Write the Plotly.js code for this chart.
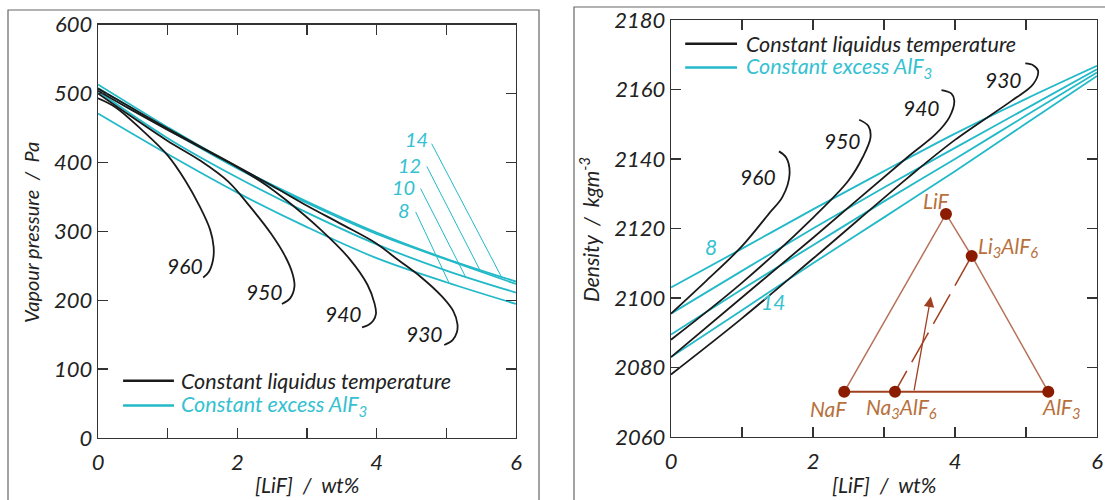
<!DOCTYPE html>
<html><head><meta charset="utf-8">
<script src="https://cdn.plot.ly/plotly-3.0.1.min.js"></script>
<style>html,body{margin:0;padding:0;background:#fff}#chart{width:1105px;height:500px}</style>
</head><body><div id="chart"></div>
<script>
// ---------- Left panel: vapour pressure (Pa) vs [LiF] (wt%) ----------
const lifGrid = [0, 1, 2, 3, 4, 5, 6];
const vpAlF3_8  = [471, 412, 356, 306, 261, 226, 194.5];
const vpAlF3_10 = [503, 435, 378, 327, 281, 243, 211];
const vpAlF3_12 = [508, 448, 391, 341, 296, 259, 223.5];
const vpAlF3_14 = [513, 451, 393, 343, 298, 260, 227];

const vp960_x = [0, 0.25, 0.64, 1.0, 1.25, 1.46, 1.61, 1.66, 1.65, 1.59, 1.51];
const vp960_y = [493, 480, 446, 410, 374, 336, 302, 277, 258, 241, 233];
const vp950_x = [0, 0.5, 1.0, 1.46, 1.87, 2.18, 2.48, 2.69, 2.79, 2.82, 2.76, 2.64];
const vp950_y = [500, 465, 431, 403, 372, 336, 297, 263, 239, 220, 203, 194.5];
const vp940_x = [0, 0.5, 1, 1.5, 2, 2.4, 2.69, 3.2, 3.61, 3.87, 3.97, 3.99, 3.95, 3.88, 3.79];
const vp940_y = [504, 475, 447, 420, 393, 368, 346, 302, 260, 222, 195, 180, 170, 164, 160.5];
const vp930_x = [0, 0.5, 1, 1.5, 2, 2.5, 3, 3.5, 4, 4.3, 4.63, 4.94, 5.1, 5.16, 5.15, 5.09, 4.97];
const vp930_y = [507, 478, 449, 421, 394, 366, 337, 310, 282, 259, 234, 205, 184, 165, 153, 142, 135];

// ---------- Right panel: density (kg m-3) vs [LiF] (wt%) ----------
const denAlF3_8  = [2103, 2114.2, 2125.5, 2136.5, 2147.3, 2157.3, 2166.8];
const denAlF3_10 = [2095.5, 2107.8, 2120, 2131.8, 2143.2, 2154.5, 2165.8];
const denAlF3_12 = [2089.5, 2102.5, 2115.2, 2127.8, 2140, 2152.5, 2164.9];
const denAlF3_14 = [2083, 2096.5, 2110, 2123.2, 2136.5, 2150.2, 2163.9];

const den960_x = [0, 0.5, 0.99, 1.38, 1.57, 1.67, 1.62, 1.52];
const den960_y = [2095.5, 2105, 2114.7, 2124.3, 2129.1, 2135.7, 2140.5, 2142.2];
const den950_x = [0, 0.99, 2.01, 2.5, 2.7, 2.81, 2.78, 2.65];
const den950_y = [2088, 2104.2, 2123.3, 2133.8, 2140.5, 2146.2, 2149.5, 2151.3];
const den940_x = [0, 0.99, 2.01, 3.33, 3.73, 3.92, 3.99, 3.95, 3.81];
const den940_y = [2083, 2100, 2117.5, 2140.5, 2147.2, 2152, 2156.8, 2158.8, 2159.8];
const den930_x = [0, 0.99, 2.01, 3.33, 4.0, 4.8, 5.1, 5.17, 5.1, 4.99];
const den930_y = [2078, 2094, 2111.5, 2134.5, 2145.5, 2156.8, 2161.5, 2165.4, 2167, 2167.5];

// labels
const liqLabels = ['960', '950', '940', '930'];
const alf3Labels = ['8', '10', '12', '14'];
const xTickVals = [0, 2, 4, 6];
const vpTicks = [0, 100, 200, 300, 400, 500, 600];
const denTicks = [2060, 2080, 2100, 2120, 2140, 2160, 2180];

// inset ternary sketch (in density-panel units)
const insetNames = ['LiF', 'NaF', 'Na<sub>3</sub>AlF<sub>6</sub>', 'AlF<sub>3</sub>', 'Li<sub>3</sub>AlF<sub>6</sub>'];
const insetX = [3.873, 2.44, 3.155, 5.314, 4.235];
const insetY = [2124.2, 2073, 2073, 2073, 2112.1];

// ---------- styling ----------
const FONT = 'Lato, "Open Sans", sans-serif';
const CYAN = '#22b9c9';
const CYAN_TXT = '#35c1d1';
const BLACK = '#1a1a1a';
const BROWN_L = '#b8725a';
const BROWN_D = '#a04020';
const BROWN_DOT = '#8c1c00';
const BROWN_TXT = '#b8703c';

function ln(x, y, color, xa, ya, w) {
  return {x: x, y: y, type: 'scatter', mode: 'lines', xaxis: xa, yaxis: ya,
    line: {color: color, width: w || 1.8, shape: 'spline', smoothing: 1},
    hoverinfo: 'skip', showlegend: false};
}

const traces = [
  ln(lifGrid, vpAlF3_8, CYAN, 'x', 'y'),
  ln(lifGrid, vpAlF3_10, CYAN, 'x', 'y'),
  ln(lifGrid, vpAlF3_12, CYAN, 'x', 'y'),
  ln(lifGrid, vpAlF3_14, CYAN, 'x', 'y'),
  ln(vp960_x, vp960_y, BLACK, 'x', 'y'),
  ln(vp950_x, vp950_y, BLACK, 'x', 'y'),
  ln(vp940_x, vp940_y, BLACK, 'x', 'y'),
  ln(vp930_x, vp930_y, BLACK, 'x', 'y'),
  ln(lifGrid, denAlF3_8, CYAN, 'x2', 'y2'),
  ln(lifGrid, denAlF3_10, CYAN, 'x2', 'y2'),
  ln(lifGrid, denAlF3_12, CYAN, 'x2', 'y2'),
  ln(lifGrid, denAlF3_14, CYAN, 'x2', 'y2'),
  ln(den960_x, den960_y, BLACK, 'x2', 'y2'),
  ln(den950_x, den950_y, BLACK, 'x2', 'y2'),
  ln(den940_x, den940_y, BLACK, 'x2', 'y2'),
  ln(den930_x, den930_y, BLACK, 'x2', 'y2'),
  // inset: triangle sides
  {x: [insetX[1], insetX[0], insetX[4], insetX[3]], y: [insetY[1], insetY[0], insetY[4], insetY[3]],
   type: 'scatter', mode: 'lines', xaxis: 'x2', yaxis: 'y2', line: {color: BROWN_L, width: 1.5},
   hoverinfo: 'skip', showlegend: false},
  {x: [insetX[1], insetX[3]], y: [insetY[1], insetY[3]], type: 'scatter', mode: 'lines',
   xaxis: 'x2', yaxis: 'y2', line: {color: BROWN_D, width: 2}, hoverinfo: 'skip', showlegend: false},
  // cryolite - Li3AlF6 join (dashed)
  {x: [insetX[4], insetX[2]], y: [insetY[4], insetY[2]], type: 'scatter', mode: 'lines',
   xaxis: 'x2', yaxis: 'y2', line: {color: BROWN_D, width: 1.5, dash: '34px,10px'},
   hoverinfo: 'skip', showlegend: false},
  // points
  {x: insetX, y: insetY, type: 'scatter', mode: 'markers', xaxis: 'x2', yaxis: 'y2',
   marker: {color: BROWN_DOT, size: 12}, hoverinfo: 'skip', showlegend: false}
];

function axisBase(extra) {
  return Object.assign({
    showline: true, linecolor: '#333', linewidth: 1.3, mirror: 'ticks',
    ticks: 'inside', ticklen: 10, tickwidth: 1.3, tickcolor: '#333',
    showgrid: false, zeroline: false, fixedrange: true,
    tickfont: {family: FONT, size: 22, color: '#222', style: 'italic'}
  }, extra);
}
const minorX = {dtick: 1, tick0: 0, ticks: 'inside', ticklen: 10, tickwidth: 1.3, tickcolor: '#333', showgrid: false};

const txtFont = (size, color) => ({family: FONT, size: size, color: color, style: 'italic'});
const annotations = [];
const shapes = [];
const SP = '\u00a0';

// axis titles
function axTitle(text, px, py, angle, size) {
  annotations.push({text: text, xref: 'paper', yref: 'paper', x: px/1105, y: 1 - py/500,
    xanchor: 'center', yanchor: 'middle', textangle: angle, showarrow: false, font: txtFont(size, '#222')});
}
axTitle('Vapour pressure ' + SP + '/' + SP + ' Pa', 31, 233, -90, 20);
axTitle('[LiF] ' + SP + '/' + SP + ' wt%', 307, 484, 0, 21);
axTitle('Density ' + SP + '/' + SP + ' kgm<sup>-3</sup>', 589, 230, -90, 21);
axTitle('[LiF] ' + SP + '/' + SP + ' wt%', 884, 484, 0, 21);

// curve labels, left
const vpLiqPos = [[1.25, 251], [2.39, 212], [3.53, 180], [4.68, 152]];
liqLabels.forEach((t, i) => annotations.push({text: t, xref: 'x', yref: 'y', x: vpLiqPos[i][0], y: vpLiqPos[i][1],
  showarrow: false, font: txtFont(21, BLACK)}));
const vpAlPos = [[4.39, 331], [4.39, 364], [4.47, 396], [4.57, 433.5]];
const vpLeader = [[4.56, 328, 5.04, 224.7], [4.63, 362, 5.27, 235], [4.72, 394, 5.48, 244], [4.79, 427, 5.79, 234]];
alf3Labels.forEach((t, i) => {
  annotations.push({text: t, xref: 'x', yref: 'y', x: vpAlPos[i][0], y: vpAlPos[i][1], showarrow: false,
    font: txtFont(20, CYAN_TXT), borderpad: 0});
  shapes.push({type: 'line', xref: 'x', yref: 'y', x0: vpLeader[i][0], y0: vpLeader[i][1], x1: vpLeader[i][2], y1: vpLeader[i][3],
    line: {color: CYAN, width: 1}});
});

// curve labels, right
const denLiqPos = [[1.23, 2135], [2.41, 2145.3], [3.53, 2154.7], [4.68, 2162.8]];
liqLabels.forEach((t, i) => annotations.push({text: t, xref: 'x2', yref: 'y2', x: denLiqPos[i][0], y: denLiqPos[i][1],
  showarrow: false, font: txtFont(21, BLACK)}));
annotations.push({text: alf3Labels[0], xref: 'x2', yref: 'y2', x: 0.57, y: 2114.9, showarrow: false, font: txtFont(21, CYAN_TXT)});
annotations.push({text: alf3Labels[3], xref: 'x2', yref: 'y2', x: 1.43, y: 2098.9, showarrow: false, font: txtFont(21, CYAN_TXT)});

// legends (drawn as keys)
function legend(xa, ya, xs, ys, xt) {
  shapes.push({type: 'line', xref: xa, yref: ya, x0: xs[0], x1: xs[1], y0: ys[0], y1: ys[0], line: {color: BLACK, width: 2.5}});
  shapes.push({type: 'line', xref: xa, yref: ya, x0: xs[0], x1: xs[1], y0: ys[1], y1: ys[1], line: {color: CYAN, width: 2.5}});
  annotations.push({text: 'Constant liquidus temperature', xref: xa, yref: ya, x: xt, y: ys[0], xanchor: 'left', yanchor: 'middle',
    showarrow: false, borderpad: 0, font: txtFont(21.5, '#222')});
  annotations.push({text: 'Constant excess AlF<sub>3</sub>', xref: xa, yref: ya, x: xt, y: ys[1], xanchor: 'left', yanchor: 'middle',
    showarrow: false, borderpad: 0, font: txtFont(21.5, CYAN_TXT)});
}
legend('x', 'y', [0.36, 1.09], [83, 47], 1.18);
legend('x2', 'y2', [0.2, 0.93], [2173.2, 2166.3], 1.04);

// inset labels
const insetLblPos = [[3.74, 2128, 'center'], [2.215, 2068.3, 'center'], [3.25, 2068.3, 'center'], [5.5, 2068.3, 'center'], [4.3, 2114.8, 'left']];
insetNames.forEach((t, i) => annotations.push({text: t, xref: 'x2', yref: 'y2', x: insetLblPos[i][0], y: insetLblPos[i][1],
  xanchor: insetLblPos[i][2], yanchor: 'middle', showarrow: false, font: txtFont(21, BROWN_TXT)}));
// arrow inside inset
annotations.push({text: '', xref: 'x2', yref: 'y2', axref: 'x2', ayref: 'y2', x: 3.66, y: 2100.4, ax: 3.42, ay: 2073,
  showarrow: true, arrowhead: 2, arrowsize: 1.6, arrowwidth: 1.3, arrowcolor: BROWN_D});

// outer panel frames
shapes.push({type: 'rect', xref: 'paper', yref: 'paper', x0: 8/1105, x1: 539/1105, y0: -0.2, y1: 1 - 10/500,
  line: {color: '#666', width: 1.2}});
shapes.push({type: 'rect', xref: 'paper', yref: 'paper', x0: 574/1105, x1: 1.2, y0: -0.2, y1: 1 - 7/500,
  line: {color: '#666', width: 1.2}});

const layout = {
  width: 1105, height: 500, margin: {l: 0, r: 0, t: 0, b: 0},
  paper_bgcolor: '#fff', plot_bgcolor: '#fff', showlegend: false,
  xaxis: axisBase({domain: [98/1105, 516/1105], range: [0, 6], tickvals: xTickVals, minor: minorX, anchor: 'y', ticklabelstandoff: 4}),
  yaxis: axisBase({domain: [1 - 438/500, 1 - 24.5/500], range: [0, 600], tickvals: vpTicks, anchor: 'x'}),
  xaxis2: axisBase({domain: [671/1105, 1097/1105], range: [0, 6], tickvals: xTickVals, minor: minorX, anchor: 'y2', ticklabelstandoff: 4}),
  yaxis2: axisBase({domain: [1 - 437/500, 1 - 20/500], range: [2060, 2180], tickvals: denTicks, anchor: 'x2'}),
  annotations: annotations, shapes: shapes
};

Plotly.newPlot('chart', traces, layout, {displayModeBar: false, staticPlot: true});
</script></body></html>
